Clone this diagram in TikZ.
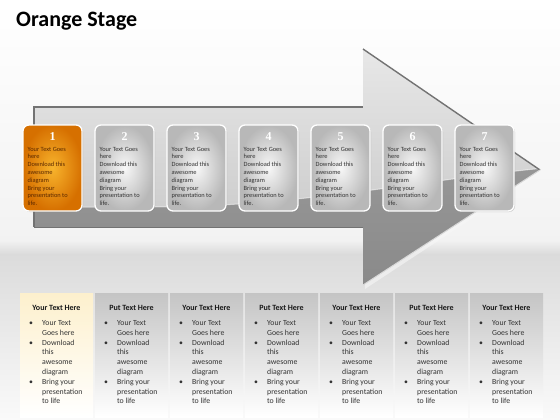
\documentclass[tikz,border=0pt]{standalone}
\usepackage{fontspec}
\setmainfont{Carlito}
\newfontfamily\numfont{Liberation Serif}
\usetikzlibrary{shadows}
\definecolor{orin}{RGB}{248,180,45}
\definecolor{orout}{RGB}{214,112,0}
\definecolor{ortext}{RGB}{90,40,0}
\definecolor{coltop}{RGB}{253,240,205}
\tikzset{
  cardbox/.style={rounded corners=6pt, draw=white, line width=1.3pt,
    drop shadow={opacity=0.35, shadow xshift=1pt, shadow yshift=-1pt}},
  cardnum/.style={font=\numfont\fontsize{12}{12}\selectfont\bfseries, text=white, anchor=base, inner sep=0pt},
  cardtxt/.style={font=\fontsize{6.4}{7}\selectfont, anchor=base west, inner sep=0pt},
  colhead/.style={font=\fontsize{8}{9}\selectfont\bfseries, text=black!90, anchor=base, inner sep=0pt},
  coltxt/.style={font=\fontsize{7.8}{9}\selectfont, text=black!80, anchor=base west, inner sep=0pt},
  titletxt/.style={font=\fontsize{22}{24}\selectfont\bfseries, anchor=base west, inner sep=0pt}
}
\begin{document}
\begin{tikzpicture}[x=1pt,y=-1pt]
\useasboundingbox (0,0) rectangle (560,420);
% background
\fill[white] (0,0) rectangle (560,420);
\shade[top color=white, bottom color=black!5] (0,0) rectangle (560,240);
\shade[top color=black!5, bottom color=black!14] (0,240) rectangle (560,254);
\shade[top color=black!14, bottom color=black!2] (0,254) rectangle (560,420);
% title
\node[titletxt] (title) at (16,27) {Orange Stage};
% arrow
\def\arrowpath{(34,107) -- (363,107) -- (363,49) -- (540,170) -- (363,285) -- (363,227) -- (34,227) -- cycle}
\fill[black!3, opacity=0.6] (36,109) -- (365,109) -- (365,52) -- (544,171) -- (365,289) -- (365,230) -- (36,230) -- cycle;
\shade[top color=black!36, bottom color=black!46] \arrowpath;
\begin{scope}
  \clip \arrowpath;
  \shade[top color=black!9, bottom color=black!19] (30,45) -- (545,45) -- (545,168)
     .. controls (420,180) and (300,207) .. (150,207) -- (30,207) -- cycle;
  \draw[white, opacity=0.5, line width=1pt] (545,168) .. controls (420,180) and (300,207) .. (150,207) -- (30,207);
\end{scope}
\draw[black!55, line width=1.4pt] (34,227) -- (34,107) -- (363,107);
\draw[black!55, line width=1.4pt] (363,49) -- (540,170);
\draw[black!15, line width=1pt] (540,170) -- (363,285);
\draw[black!55, line width=1pt] (363,227) -- (34,227);
% cards
\foreach \i in {0,...,6}{
  \pgfmathsetmacro{\cx}{23+72*\i}
  \ifnum\i=0
    \path[cardbox, inner color=orin, outer color=orout] (\cx,125) rectangle ++(59,86);
  \else
    \path[cardbox, inner color=black!3, outer color=black!28] (\cx,125) rectangle ++(59,86);
  \fi
}
\foreach \i in {0,...,6}{
  \pgfmathsetmacro{\cx}{23+72*\i}
  \pgfmathtruncatemacro{\n}{\i+1}
  \ifnum\i=0 \def\tc{ortext}\else\def\tc{black!80}\fi
  \node[cardnum] (num\n) at (\cx+29.5,140.5) {\n};
  \node[cardtxt, text=\tc] (ca\n) at (\cx+4.5,151) {Your Text Goes};
  \node[cardtxt, text=\tc] (cb\n) at (\cx+4.5,158.8) {here};
  \node[cardtxt, text=\tc] (cc\n) at (\cx+4.5,166.6) {Download this};
  \node[cardtxt, text=\tc] (cd\n) at (\cx+4.5,174.4) {awesome};
  \node[cardtxt, text=\tc] (ce\n) at (\cx+4.5,182.2) {diagram};
  \node[cardtxt, text=\tc] (cf\n) at (\cx+4.5,190) {Bring your};
  \node[cardtxt, text=\tc] (cg\n) at (\cx+4.5,197.8) {presentation to};
  \node[cardtxt, text=\tc] (ch\n) at (\cx+4.5,205.6) {life.};
}
% columns
\foreach \i in {0,...,6}{
  \pgfmathsetmacro{\cx}{20+75*\i}
  \pgfmathtruncatemacro{\n}{\i+1}
  \ifnum\i=0
    \shade[top color=coltop, bottom color=white] (\cx,293) rectangle ++(73,124);
  \else
    \shade[top color=black!23, bottom color=white] (\cx,293) rectangle ++(73,124);
  \fi
  \ifodd\i \def\hd{Put Text Here}\else\def\hd{Your Text Here}\fi
  \node[colhead] (h\n) at (\cx+36.5,310) {\hd};
  \node[coltxt] (b1\n) at (\cx+9,325.5) {•};
  \node[coltxt] (b2\n) at (\cx+9,345.1) {•};
  \node[coltxt] (b3\n) at (\cx+9,384.3) {•};
  \node[coltxt] (ta\n) at (\cx+22,325.5) {Your Text};
  \node[coltxt] (tb\n) at (\cx+22,335.3) {Goes here};
  \node[coltxt] (tc\n) at (\cx+22,345.1) {Download};
  \node[coltxt] (td\n) at (\cx+22,354.9) {this};
  \node[coltxt] (te\n) at (\cx+22,364.7) {awesome};
  \node[coltxt] (tf\n) at (\cx+22,374.5) {diagram};
  \node[coltxt] (tg\n) at (\cx+22,384.3) {Bring your};
  \node[coltxt] (th\n) at (\cx+22,394.1) {presentation};
  \node[coltxt] (ti\n) at (\cx+22,403.9) {to life};
}
\end{tikzpicture}
\end{document}
